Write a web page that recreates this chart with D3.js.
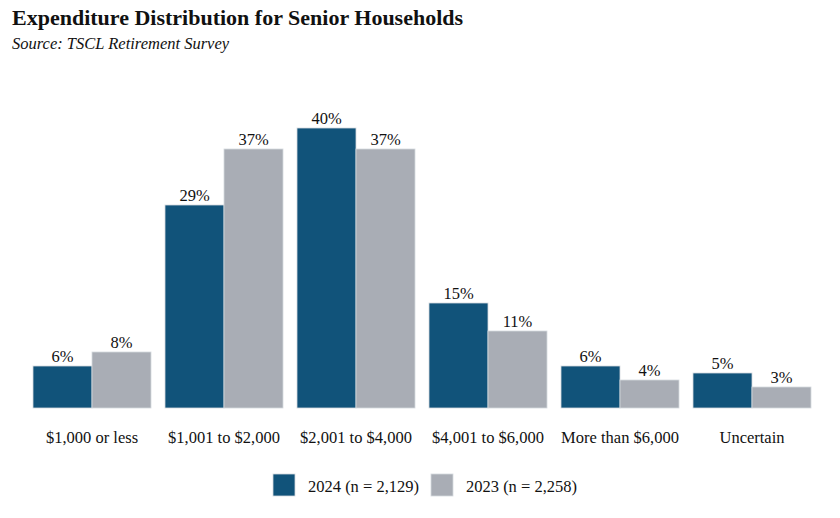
<!DOCTYPE html>
<html>
<head>
<meta charset="utf-8">
<script src="https://cdn.jsdelivr.net/npm/d3@7"></script>
<style>
  body { margin: 0; background: #fff; }
  text { font-family: "Liberation Serif", "Times New Roman", serif; fill: #111; }
</style>
</head>
<body>
<svg id="chart" width="840" height="518"></svg>
<script>
const categories = ["$1,000 or less", "$1,001 to $2,000", "$2,001 to $4,000", "$4,001 to $6,000", "More than $6,000", "Uncertain"];
const seriesNames = ["2024 (n = 2,129)", "2023 (n = 2,258)"];
const values2024 = [6, 29, 40, 15, 6, 5];
const values2023 = [8, 37, 37, 11, 4, 3];
const colors = ["#11537a", "#a9adb5"];

const svg = d3.select("#chart");
const baseline = 408;

// title + source
svg.append("text")
  .attr("x", 12).attr("y", 25)
  .attr("font-size", "22px").attr("font-weight", "bold")
  .text("Expenditure Distribution for Senior Households");
svg.append("text")
  .attr("x", 12).attr("y", 49)
  .attr("font-size", "16.5px").attr("font-style", "italic")
  .text("Source: TSCL Retirement Survey");

// scales
const x0 = d3.scaleBand().domain(categories).range([26, 818]).paddingInner(14 / 132).paddingOuter(7 / 132);
const x1 = d3.scaleBand().domain([0, 1]).range([0, x0.bandwidth()]);
const y = d3.scaleLinear().domain([0, 40]).range([baseline, 128]);

const rows = categories.map((c, i) => ({ cat: c, vals: [values2024[i], values2023[i]] }));

const groups = svg.append("g").selectAll("g")
  .data(rows).join("g")
  .attr("transform", d => `translate(${x0(d.cat)},0)`);

groups.selectAll("rect")
  .data(d => d.vals.map((v, k) => ({ v, k })))
  .join("rect")
  .attr("x", d => x1(d.k))
  .attr("y", d => y(d.v))
  .attr("width", x1.bandwidth())
  .attr("height", d => baseline - y(d.v))
  .attr("fill", d => colors[d.k])
  .attr("stroke", "#d5d9de")
  .attr("stroke-width", 0.8);

groups.selectAll("text.val")
  .data(d => d.vals.map((v, k) => ({ v, k })))
  .join("text")
  .attr("class", "val")
  .attr("x", d => x1(d.k) + x1.bandwidth() / 2)
  .attr("y", d => y(d.v) - 4)
  .attr("text-anchor", "middle")
  .attr("font-size", "16.5px")
  .text(d => d.v + "%");

// category axis (no line/ticks)
const xAxis = svg.append("g")
  .attr("transform", `translate(0,${baseline})`)
  .call(d3.axisBottom(x0).tickSize(0).tickPadding(23));
xAxis.select(".domain").remove();
xAxis.selectAll("text")
  .attr("font-family", "Liberation Serif, serif")
  .attr("font-size", "16.5px")
  .attr("fill", "#111");

// legend
const legendX = [273, 431];
const legend = svg.append("g").selectAll("g")
  .data(seriesNames).join("g")
  .attr("transform", (d, i) => `translate(${legendX[i]},474)`);
legend.append("rect")
  .attr("width", 22).attr("height", 22)
  .attr("fill", (d, i) => colors[i])
  .attr("stroke", "#d5d9de").attr("stroke-width", 0.8);
legend.append("text")
  .attr("x", 35).attr("y", 18)
  .attr("font-size", "16.5px")
  .text(d => d);
</script>
</body>
</html>
